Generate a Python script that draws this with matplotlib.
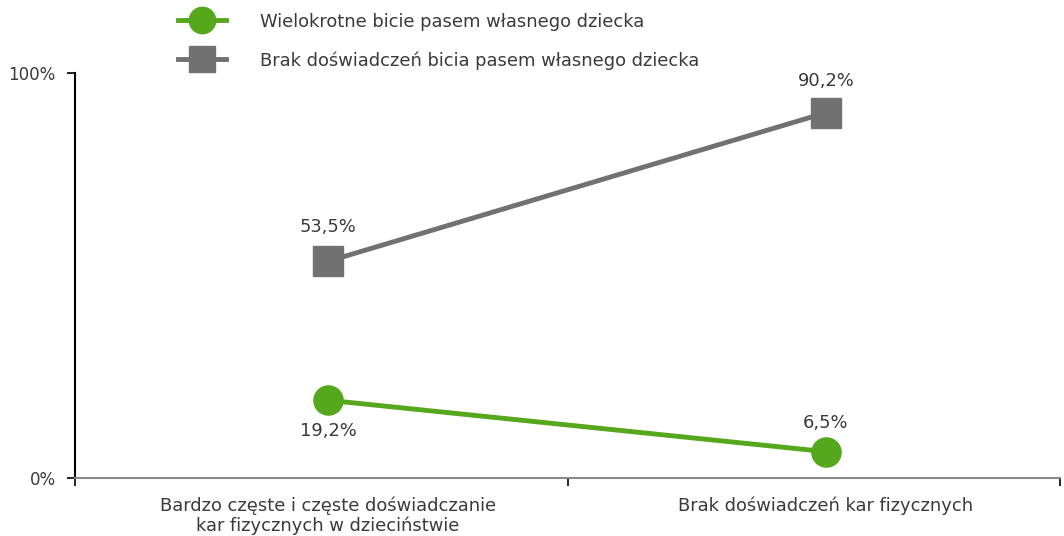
import matplotlib
matplotlib.use("Agg")
import matplotlib.pyplot as plt
from matplotlib.lines import Line2D

plt.rcParams['font.family'] = ['DejaVu Sans']

categories = ["Bardzo częste i częste doświadczanie\nkar fizycznych w dzieciństwie",
              "Brak doświadczeń kar fizycznych"]
series_names = ["Wielokrotne bicie pasem własnego dziecka",
                "Brak doświadczeń bicia pasem własnego dziecka"]
green_vals = [19.2, 6.5]
gray_vals = [53.5, 90.2]
green_labels = ["19,2%", "6,5%"]
gray_labels = ["53,5%", "90,2%"]
ytick_labels = ["0%", "100%"]

GREEN = "#55a81c"
GRAY = "#717171"
TXT = "#3a3a3a"
FS = 12.9

fig = plt.figure(figsize=(10.64, 5.36), dpi=100)
ax = fig.add_axes([75/1064, 1-478/536, (1060-75)/1064, (478-73)/536])

x = [0, 1]
ax.plot(x, green_vals, color=GREEN, lw=3.5, marker='o', ms=21, mec=GREEN, mfc=GREEN, zorder=3)
ax.plot(x, gray_vals, color=GRAY, lw=3.5, marker='s', ms=21, mec=GRAY, mfc=GRAY, zorder=3)

ax.annotate(gray_labels[0], (0, gray_vals[0]), xytext=(0, 18), textcoords='offset points',
            ha='center', va='bottom', fontsize=FS, color=TXT)
ax.annotate(gray_labels[1], (1, gray_vals[1]), xytext=(0, 16), textcoords='offset points',
            ha='center', va='bottom', fontsize=FS, color=TXT)
ax.annotate(green_labels[0], (0, green_vals[0]), xytext=(0, -16), textcoords='offset points',
            ha='center', va='top', fontsize=FS, color=TXT)
ax.annotate(green_labels[1], (1, green_vals[1]), xytext=(0, 14), textcoords='offset points',
            ha='center', va='bottom', fontsize=FS, color=TXT)

x_lo, x_mid, x_hi = -0.508, 0.482, 1.47
ax.set_xlim(x_lo, x_hi)
ax.set_ylim(0, 100)
ax.set_yticks([0, 100])
ax.set_yticklabels(ytick_labels, fontsize=12, color=TXT)
ax.tick_params(axis='y', direction='out', length=6, width=1.2, color='black', pad=8)

ax.set_xticks(x)
ax.set_xticklabels(categories, fontsize=FS, color=TXT, linespacing=1.1)
ax.tick_params(axis='x', which='major', length=0, pad=13)
ax.set_xticks([x_lo, x_mid, x_hi], minor=True)
ax.tick_params(axis='x', which='minor', direction='out', length=6, width=1.2, color='black')

for s in ['top', 'right']:
    ax.spines[s].set_visible(False)
ax.spines['left'].set_color('black')
ax.spines['left'].set_linewidth(1.5)
ax.spines['bottom'].set_color('#888888')
ax.spines['bottom'].set_linewidth(1.5)

handles = [Line2D([0], [0], color=GREEN, lw=3.5, marker='o', ms=19),
           Line2D([0], [0], color=GRAY, lw=3.5, marker='s', ms=19)]
fig.legend(handles, series_names, loc='upper left', bbox_to_anchor=(165/1064, 1.0),
           frameon=False, fontsize=FS, handlelength=2.7, labelspacing=1.15,
           handletextpad=1.9, labelcolor=TXT, borderaxespad=0.3)

fig.savefig("out.png", dpi=100)
